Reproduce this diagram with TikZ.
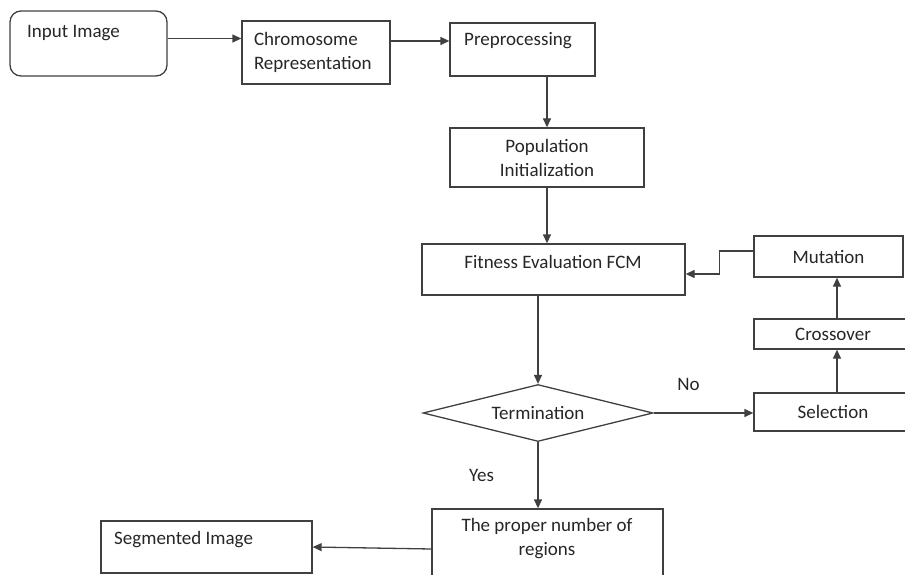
\documentclass[tikz,border=0pt]{standalone}
\usepackage{fontspec}
\setmainfont{Carlito}
\usetikzlibrary{positioning,arrows.meta,shapes.geometric}

\begin{document}
\begin{tikzpicture}[
    x=1pt, y=-1pt,
    every node/.style={font=\fontsize{19}{24}\selectfont, text=black!85},
    box/.style={draw=black!75, line width=1.3pt, inner sep=0pt},
    corner text/.style={anchor=base west, inner sep=0pt},
    flow arrow/.style={
        draw=black!75, line width=1.3pt,
        -{Triangle[length=9pt,width=8pt]}
    }
]
    \useasboundingbox (0,0) rectangle (905,575);

    % top row
    \node[box, rounded corners=11pt, minimum width=157pt, minimum height=65pt] (input) at (88.5,43.5) {};
    \node[corner text] (inputtxt) at (27,38) {Input Image};
    \node[box, minimum width=148pt, minimum height=63pt, align=left, text width=124pt] (chrom) at (316,52.5) {Chromosome\\Representation};
    \node[box, minimum width=145pt, minimum height=53pt] (prep) at (522.5,49.5) {};
    \node[corner text] (preptxt) at (464,46) {Preprocessing};

    % main column
    \node[box, minimum width=194pt, minimum height=59pt, align=center] (pop) at (547,157.5) {Population\\Initialization};
    \node[box, minimum width=263pt, minimum height=51pt] (fit) at (553.5,269.5) {};
    \node (fittxt) at (553,262) {Fitness Evaluation FCM};
    \node[draw=black!75, line width=1.3pt, shape=diamond, aspect=4, inner sep=0pt,
          minimum width=230pt, minimum height=57pt] (term) at (538,413) {Termination};
    \node[box, minimum width=231pt, minimum height=80pt] (proper) at (547.5,549) {};
    \node[align=center] (propertxt) at (547,539) {The proper number of\\regions};
    \node[box, minimum width=211pt, minimum height=52pt] (seg) at (206.5,547) {};
    \node[corner text] (segtxt) at (114,544) {Segmented Image};

    % GA loop
    \node[box, minimum width=158pt, minimum height=38pt] (sel) at (833,412) {Selection};
    \node[box, minimum width=158pt, minimum height=30pt] (cross) at (833,334) {Crossover};
    \node[box, minimum width=149pt, minimum height=41pt] (mut) at (828.5,256.5) {Mutation};

    \draw[flow arrow] ([yshift=5pt]input.east) -- ([yshift=14pt]chrom.west);
    \draw[flow arrow] ([yshift=11.5pt]chrom.east) -- ([yshift=8.5pt]prep.west);
    \draw[flow arrow] (pop.north |- prep.south) -- (pop.north);
    \draw[flow arrow] (pop.south) -- (pop.south |- fit.north);
    \draw[flow arrow] (term.north |- fit.south) -- (term.north);
    \draw[flow arrow] (term.east) -- (term.east -| sel.west) node[above=18pt, pos=0.35] (no) {No};
    \draw[flow arrow] ([xshift=4pt]sel.north) -- ([xshift=4pt]cross.south);
    \draw[flow arrow] ([xshift=4pt]cross.north) -- ([xshift=8.5pt]mut.south);
    \draw[flow arrow] ([yshift=5.5pt]mut.west) -- ++(-34,0) |- ([yshift=-4.5pt]fit.east);
    \draw[flow arrow] (term.south) -- (term.south |- proper.north) node[left=40pt, pos=0.5] (yes) {Yes};
    \draw[flow arrow] (proper.west) -- (seg.east);

\end{tikzpicture}
\end{document}
